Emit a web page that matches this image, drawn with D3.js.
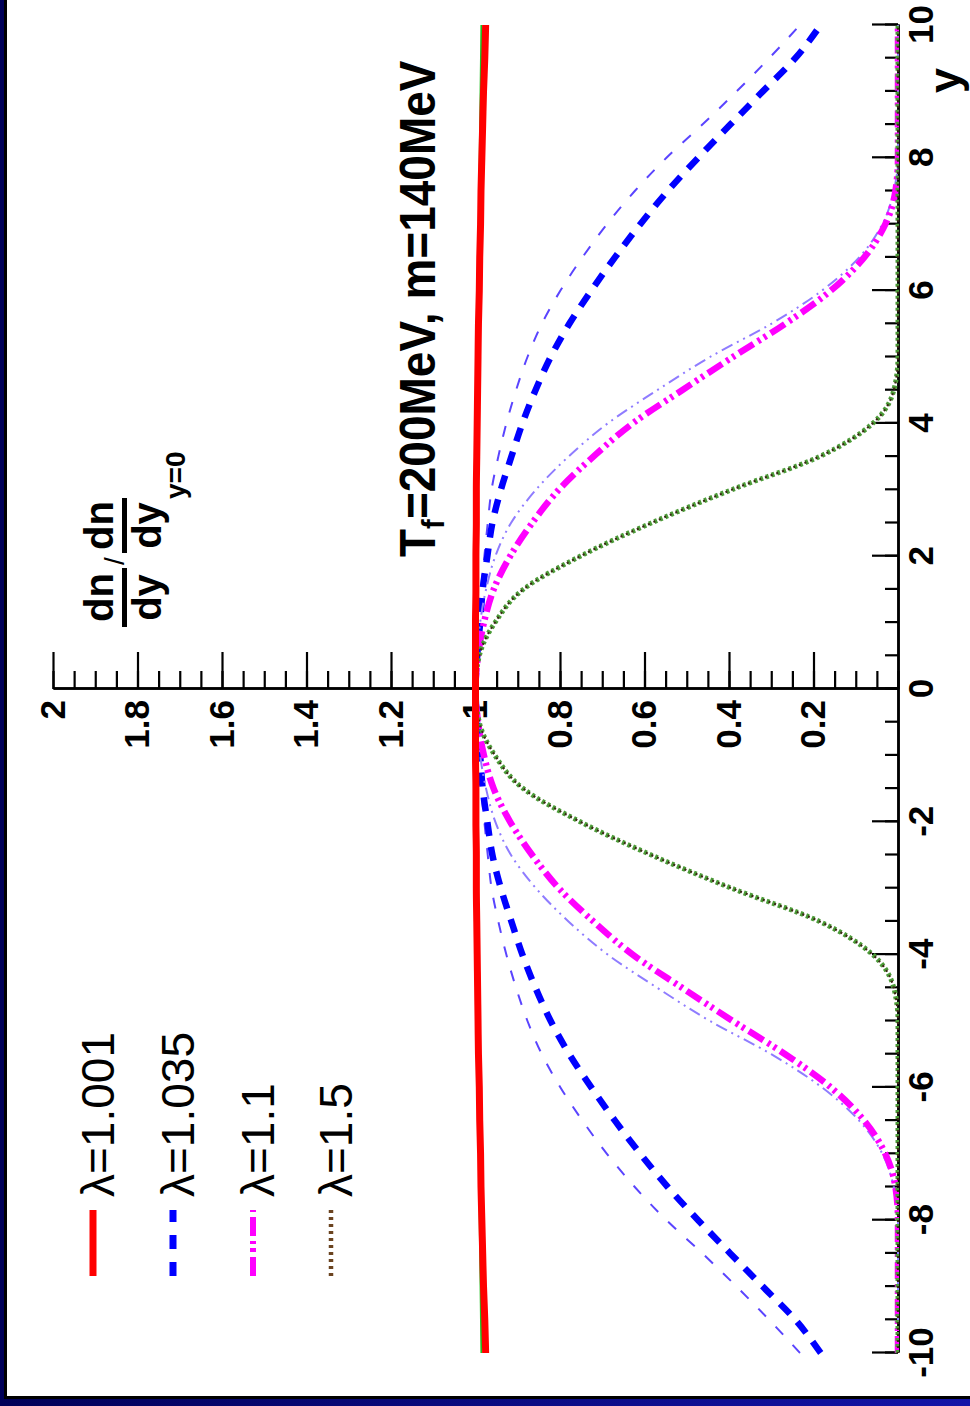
<!DOCTYPE html>
<html>
<head>
<meta charset="utf-8">
<script src="https://cdn.jsdelivr.net/npm/d3@7"></script>
<style>
  html, body { margin: 0; padding: 0; background: #fff; }
  svg { display: block; }
</style>
</head>
<body>
<script>
// Rapidity grid shared by every curve
const rapidity = [-10,-9.5,-9,-8.5,-8,-7.5,-7,-6.5,-6,-5.5,-5,-4.5,-4,-3.5,-3,-2.5,-2,-1.5,-1,-0.5,
  0,0.5,1,1.5,2,2.5,3,3.5,4,4.5,5,5.5,6,6.5,7,7.5,8,8.5,9,9.5,10];

// (dn/dy) / (dn/dy at y=0) for each lambda: main curve and companion curve
const lam1001Main = [.976,.978,.981,.983,.985,.987,.988,.990,.991,.993,.994,.995,.996,.997,.998,.998,.999,.999,1.000,1.000,
  1.000,1.000,1.000,.999,.999,.998,.998,.997,.996,.995,.994,.993,.991,.990,.988,.987,.985,.983,.981,.978,.976];
const lam1001Alt = [.986,.987,.988,.989,.990,.991,.992,.993,.994,.995,.996,.997,.997,.998,.998,.999,.999,1.000,1.000,1.000,
  1.000,1.000,1.000,1.000,.999,.999,.998,.998,.997,.997,.996,.995,.994,.993,.992,.991,.990,.989,.988,.987,.986];
const lam1035Main = [.183,.243,.320,.397,.473,.545,.610,.670,.726,.778,.822,.858,.889,.915,.940,.960,.972,.983,.989,.996,
  1.000,.996,.989,.983,.972,.960,.940,.915,.889,.858,.822,.778,.726,.670,.610,.545,.473,.397,.320,.243,.183];
const lam1035Alt = [.232,.305,.382,.463,.548,.623,.689,.747,.799,.843,.877,.904,.927,.946,.962,.971,.979,.987,.994,.998,
  1.000,.998,.994,.987,.979,.971,.962,.946,.927,.904,.877,.843,.799,.747,.689,.623,.548,.463,.382,.305,.232];
const lam11Main = [0,0,0,0,0,.006,.030,.080,.159,.267,.391,.511,.628,.721,.803,.866,.918,.957,.980,.994,
  1.000,.994,.980,.957,.918,.866,.803,.721,.628,.511,.391,.267,.159,.080,.030,.006,0,0,0,0,0];
const lam11Alt = [0,0,0,0,0,.010,.037,.092,.180,.300,.445,.570,.687,.780,.857,.916,.953,.975,.989,.996,
  1.000,.996,.989,.975,.953,.916,.857,.780,.687,.570,.445,.300,.180,.092,.037,.010,0,0,0,0,0];
const lam15 = [0,0,0,0,0,0,0,0,0,0,0,.010,.060,.186,.394,.584,.752,.887,.954,.991,
  1.000,.991,.954,.887,.752,.584,.394,.186,.060,.010,0,0,0,0,0,0,0,0,0,0,0];

// Axis ticks and labels
const rapidityTicks = [-10,-8,-6,-4,-2,0,2,4,6,8,10];
const rapidityTickLabels = ["-10","-8","-6","-4","-2","0","2","4","6","8","10"];
const valueTicks = [0.2,0.4,0.6,0.8,1,1.2,1.4,1.6,1.8,2];
const valueTickLabels = ["0.2","0.4","0.6","0.8","1","1.2","1.4","1.6","1.8","2"];

// Legend entries
const legendLabels = ["\u03bb=1.001","\u03bb=1.035","\u03bb=1.1","\u03bb=1.5"];

const W = 970, H = 1406;
const FONT = "'Liberation Sans', Arial, Helvetica, sans-serif";

const svg = d3.select("body").append("svg")
  .attr("width", W).attr("height", H)
  .attr("viewBox", `0 0 ${W} ${H}`);

const defs = svg.append("defs");
const grad = defs.append("linearGradient").attr("id", "edgeBlue")
  .attr("x1", "0").attr("x2", "1").attr("y1", "0").attr("y2", "0");
grad.append("stop").attr("offset", "0").attr("stop-color", "#000058");
grad.append("stop").attr("offset", "1").attr("stop-color", "#1414a8");

svg.append("rect").attr("width", W).attr("height", H).attr("fill", "#fff");

// The figure is laid out landscape (1406 x 970) and turned a quarter turn
const g = svg.append("g").attr("transform", `translate(0,${H}) rotate(-90)`);

defs.append("clipPath").attr("id", "plotClip")
  .append("rect").attr("x", 0).attr("y", 0).attr("width", H).attr("height", 899);

const x = d3.scaleLinear().domain([-10, 10]).range([53, 1381]);
const y = d3.scaleLinear().domain([0, 2]).range([898, 53]);

function styleAxis(sel) {
  sel.selectAll("path.domain").attr("stroke", "#000").attr("stroke-width", 2.5);
  sel.selectAll(".tick line").attr("stroke", "#000").attr("stroke-width", 2.2);
  sel.selectAll(".tick text")
    .attr("fill", "#000")
    .attr("font-family", FONT)
    .attr("font-weight", "bold")
    .attr("font-size", 35);
  sel.attr("font-family", null).attr("font-size", null);
}

// Rapidity axis (value = 0), ticks pointing toward larger values
g.append("g").attr("transform", `translate(0,${y(0)})`)
  .call(d3.axisBottom(x).ticks(40).tickSizeInner(-13).tickSizeOuter(0).tickFormat(""))
  .call(styleAxis);
g.append("g").attr("transform", `translate(0,${y(0)})`)
  .call(d3.axisBottom(x).tickValues(rapidityTicks).tickSizeInner(-26).tickSizeOuter(0)
    .tickPadding(10).tickFormat((d, i) => rapidityTickLabels[i]))
  .call(styleAxis);

// Value axis (rapidity = 0)
g.append("g").attr("transform", `translate(${x(0)},0)`)
  .call(d3.axisLeft(y).ticks(40).tickSizeInner(-18).tickSizeOuter(0).tickFormat(""))
  .call(styleAxis);
g.append("g").attr("transform", `translate(${x(0)},0)`)
  .call(d3.axisLeft(y).tickValues(valueTicks).tickSizeInner(-37).tickSizeOuter(0)
    .tickPadding(11).tickFormat((d, i) => valueTickLabels[i]))
  .call(styleAxis);

// Curves
const line = d3.line()
  .x(d => x(d[0]))
  .y(d => y(d[1]))
  .curve(d3.curveMonotoneX);

const curves = g.append("g").attr("clip-path", "url(#plotClip)");

function drawCurve(values, stroke, width, dash, offset) {
  curves.append("path")
    .datum(d3.zip(rapidity, values))
    .attr("d", line)
    .attr("fill", "none")
    .attr("stroke", stroke)
    .attr("stroke-width", width)
    .attr("stroke-dasharray", dash || null)
    .attr("stroke-dashoffset", offset || 0)
    .attr("stroke-linejoin", "round");
}

drawCurve(lam1035Alt, "#5a44ff", 2, "11,14");
drawCurve(lam1035Main, "#0000ff", 6.5, "14,11");
drawCurve(lam11Alt, "#8f7cff", 2, "12,5,2,5,2,5");
drawCurve(lam11Main, "#ff00ff", 6.5, "17,5,3,4,3,5");
drawCurve(lam15, "#4c9c38", 5, "3,3");
drawCurve(lam15, "#3a2a14", 2.2, "2,4", 1);
drawCurve(lam1001Alt, "#22c022", 2);
drawCurve(lam1001Main, "#ff0000", 7);

// Legend
const legendY = [93, 173, 253, 331];
const legendStyles = [
  { stroke: "#ff0000", width: 7, dash: null },
  { stroke: "#0000ff", width: 7, dash: "14,13" },
  { stroke: "#ff00ff", width: 6, dash: "19,5,4,4,3,5" },
  { stroke: "#6b4420", width: 4.5, dash: "3,4" }
];
const legend = g.append("g");
legendLabels.forEach((lab, i) => {
  legend.append("line")
    .attr("x1", 130).attr("x2", 196)
    .attr("y1", legendY[i]).attr("y2", legendY[i])
    .attr("stroke", legendStyles[i].stroke)
    .attr("stroke-width", legendStyles[i].width)
    .attr("stroke-dasharray", legendStyles[i].dash);
  legend.append("text")
    .attr("x", 209).attr("y", legendY[i] + 21)
    .attr("font-family", FONT)
    .attr("font-size", 46)
    .attr("fill", "#000")
    .text(lab);
});

// Parameter title
const title = g.append("g").attr("transform", "translate(849,435) scale(0.92,1)")
  .append("text")
  .attr("font-family", FONT).attr("font-weight", "bold")
  .attr("font-size", 50).attr("fill", "#000");
title.append("tspan").text("T");
title.append("tspan").attr("font-size", 32).attr("dy", 9).text("f");
title.append("tspan").attr("dy", -9).text("=200MeV, m=140MeV");

// Value-axis label: (dn/dy) / (dn/dy)_{y=0}
const ylab = g.append("g").attr("font-family", FONT).attr("font-weight", "bold").attr("fill", "#000");
const fracs = [[779, 838], [853, 908]];
fracs.forEach(([a, b]) => {
  const mid = (a + b) / 2;
  ylab.append("text").attr("x", mid).attr("y", 113).attr("text-anchor", "middle")
    .attr("font-size", 40).text("dn");
  ylab.append("line").attr("x1", a).attr("x2", b).attr("y1", 124.5).attr("y2", 124.5)
    .attr("stroke", "#000").attr("stroke-width", 5);
  ylab.append("text").attr("x", mid).attr("y", 161).attr("text-anchor", "middle")
    .attr("font-size", 40).text("dy");
});
ylab.append("text").attr("x", 845).attr("y", 124).attr("text-anchor", "middle")
  .attr("font-size", 28).attr("font-weight", "normal").text("/");
ylab.append("text").attr("x", 907).attr("y", 185).attr("font-size", 28).text("y=0");

// Rapidity axis title
g.append("text").attr("x", 1313).attr("y", 960)
  .attr("font-family", FONT).attr("font-weight", "bold").attr("font-size", 45)
  .attr("fill", "#000").text("y");

// Slide edge strips
svg.append("rect").attr("x", 0).attr("y", 0).attr("width", 4).attr("height", H).attr("fill", "#000058");
svg.append("rect").attr("x", 4).attr("y", 0).attr("width", 3).attr("height", 1399).attr("fill", "#000");
svg.append("rect").attr("x", 4).attr("y", 1396).attr("width", W - 4).attr("height", 3).attr("fill", "#000");
svg.append("rect").attr("x", 0).attr("y", 1399).attr("width", W).attr("height", 7).attr("fill", "url(#edgeBlue)");
</script>
</body>
</html>
